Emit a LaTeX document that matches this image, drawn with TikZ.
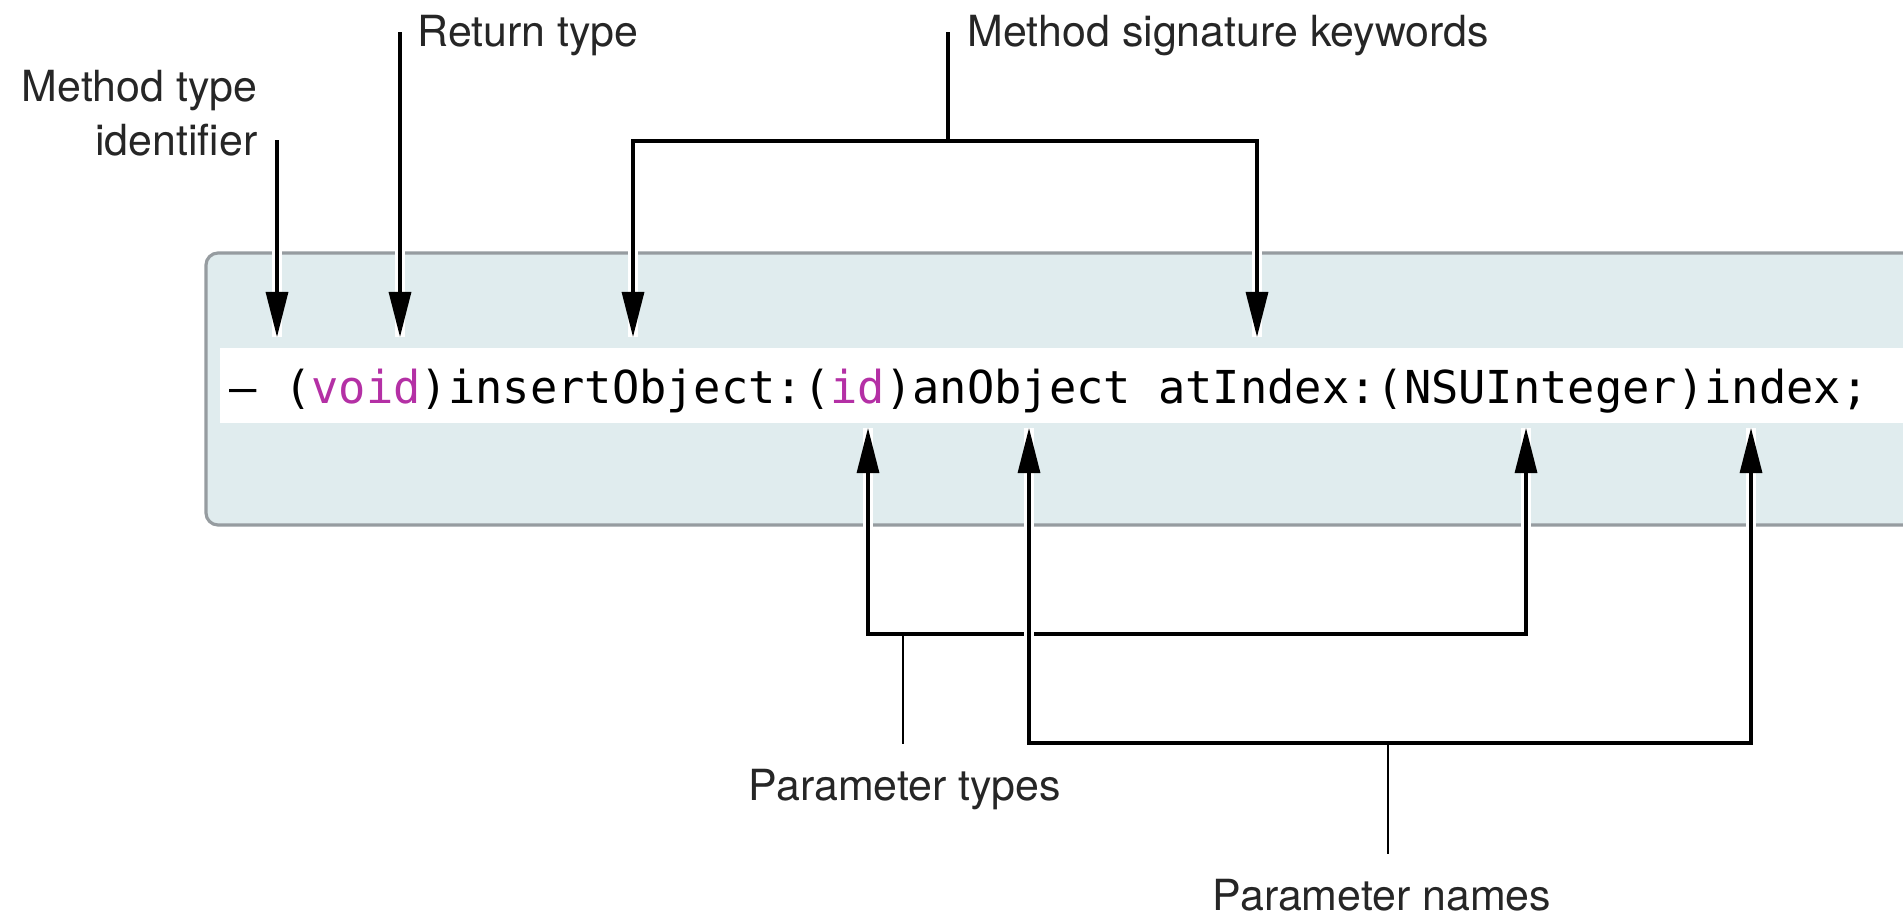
\documentclass[tikz,border=0pt]{standalone}
\usepackage{fontspec}
\setmainfont{TeX Gyre Heros}
\setmonofont{DejaVu Sans Mono}
\usetikzlibrary{arrows.meta}

\definecolor{panel}{RGB}{224,236,238}
\definecolor{panelrim}{RGB}{150,156,160}
\definecolor{keyword}{RGB}{180,48,165}

\tikzset{
  callout/.style={inner sep=0pt, text=black!85, font=\fontsize{12.2}{15.1}\selectfont},
  pointer/.style={line width=0.9pt},
  halo/.style={preaction={draw=white, line width=3pt, -}},
  lead/.style={line width=0.8pt, shorten >=2.4mm}
}

\begin{document}
\begin{tikzpicture}[x=0.01cm, y=-0.01cm, >={Triangle[length=4.5mm,width=2.2mm]}]
  % page
  \fill[white] (0,0) rectangle (1903,918);
  \useasboundingbox (0,0) rectangle (1903,918);
  \clip (0,0) rectangle (1903,918);

  % panel and the code line
  \draw[panelrim, fill=panel, line width=0.9pt, rounded corners=1.2mm] (206,253) rectangle (1960,525);
  \fill[white] (220,348) rectangle (1960,423);
  \node[anchor=base west, inner sep=0pt, font=\fontsize{12.9}{15}\ttfamily] (code) at (229,403)
    {– (\textcolor{keyword}{void})insertObject:(\textcolor{keyword}{id})anObject atIndex:(NSUInteger)index;};

  % tips above and below the code
  \coordinate (dashtip) at (277,337);
  \coordinate (voidtip) at (400,337);
  \coordinate (instip) at (633,337);
  \coordinate (attip) at (1257,337);
  \coordinate (idtip) at (868,428);
  \coordinate (objtip) at (1029,428);
  \coordinate (nstip) at (1526,428);
  \coordinate (idxtip) at (1751,428);

  % labels (base of a two-line node is its last line)
  \node[callout, anchor=base east, align=right] (kind) at (258,155) {Method type\\identifier};
  \node[callout, anchor=base west] (ret) at (417,47) {Return type};
  \node[callout, anchor=base west] (sig) at (967,47) {Method signature keywords};
  \node[callout, anchor=base] (ptypes) at (905,800) {Parameter types};
  \node[callout, anchor=base] (pnames) at (1382,910) {Parameter names};

  \coordinate (kindtop) at (277,140);
  \coordinate (rettop) at (400,32);
  \coordinate (sigtop) at (948,32);
  \coordinate (sigbar) at (948,141);
  \coordinate (typesbar) at (903,634);
  \coordinate (namesbar) at (1388,743);

  % pointers from above
  \draw[pointer, halo, ->] (kindtop) -- (dashtip);
  \draw[pointer, halo, ->] (rettop) -- (voidtip);
  \draw[pointer, halo, <->] (instip) |- (sigbar) -| (attip);
  \draw[pointer] (sigtop) -- (sigbar);

  % pointers from below
  \draw[pointer, halo, <->] (idtip) |- (typesbar) -| (nstip);
  \draw[pointer, halo, <->] (objtip) |- (namesbar) -| (idxtip);
  \draw[lead] (typesbar) -- (typesbar |- ptypes.north);
  \draw[lead] (namesbar) -- (namesbar |- pnames.north);
\end{tikzpicture}
\end{document}
